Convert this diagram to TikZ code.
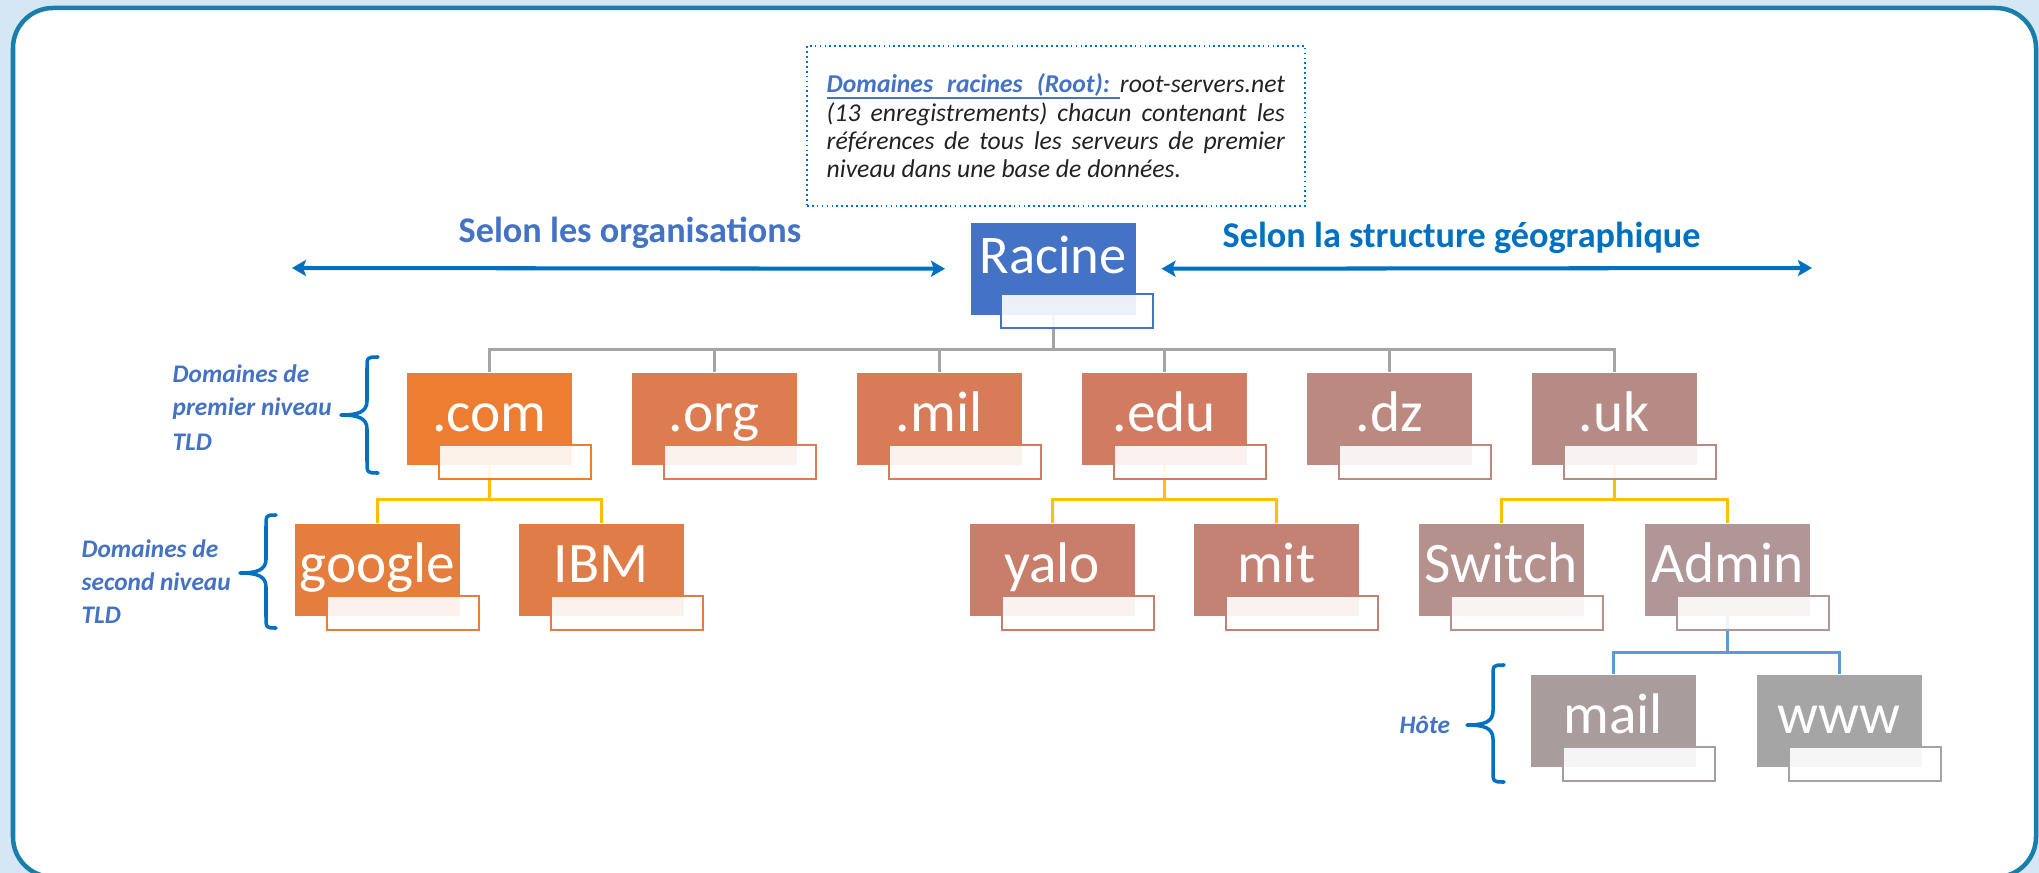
\documentclass[tikz,border=0pt]{standalone}
\usepackage{fontspec}
\setmainfont{Carlito}
\usetikzlibrary{arrows.meta,calc}

\definecolor{pagebg}{HTML}{D5E7F4}
\definecolor{framecol}{HTML}{1A7EAA}
\definecolor{accentblue}{HTML}{4472C4}
\definecolor{arrowblue}{HTML}{0070C0}
\definecolor{linkgray}{HTML}{A5A5A5}
\definecolor{linkyellow}{HTML}{FFC000}
\definecolor{linkblue}{HTML}{5B9BD5}
\definecolor{notetext}{HTML}{222222}
% box colours, from orange to grey
\definecolor{cCom}{HTML}{ED7D31}
\definecolor{cOrg}{HTML}{DD7C50}
\definecolor{cMil}{HTML}{D77B59}
\definecolor{cEdu}{HTML}{D07B62}
\definecolor{cDz}{HTML}{BC8980}
\definecolor{cUk}{HTML}{B78B85}
\definecolor{cGoogle}{HTML}{E57D3C}
\definecolor{cIbm}{HTML}{DF7C47}
\definecolor{cYalo}{HTML}{C97E6B}
\definecolor{cMit}{HTML}{C48274}
\definecolor{cSwitch}{HTML}{B5918D}
\definecolor{cAdmin}{HTML}{B09696}
\definecolor{cMail}{HTML}{A89C9C}
\definecolor{cWww}{HTML}{A5A5A5}

\pgfdeclarelayer{frame}
\pgfdeclarelayer{links}
\pgfsetlayers{frame,links,main}

\newlength\rootw

% name, x, y (top left), colour, label
\newcommand\dnsbox[5]{%
  \node[mainbox, fill=#4] (#1) at (#2,#3) {};
  \node[boxlabel] (#1-t) at ([yshift=-0.59cm]#1.north) {#5};
  \node[subbox, draw=#4] (#1-s) at ([xshift=0.32cm,yshift=-0.72cm]#1.north west) {};
}

\begin{document}
\begin{tikzpicture}[x=0.01cm,y=-0.01cm,
  mainbox/.style={rectangle, minimum width=1.65cm, minimum height=0.92cm, inner sep=0pt, anchor=north west},
  subbox/.style={rectangle, minimum width=1.52cm, minimum height=0.34cm, inner sep=0pt, anchor=north west, fill=white, fill opacity=0.9, line width=0.6pt},
  boxlabel/.style={anchor=base, text=white, inner sep=0pt, font=\fontsize{16.3}{19}\selectfont},
  graylink/.style={draw=linkgray, line width=0.85pt},
  yellowlink/.style={draw=linkyellow, line width=0.75pt},
  bluelink/.style={draw=linkblue, line width=0.7pt},
  arrowline/.style={draw=arrowblue, line width=1.15pt, {Stealth[length=0.14cm,width=0.16cm,inset=0.03cm]}-{Stealth[length=0.14cm,width=0.16cm,inset=0.03cm]}},
  bracestyle/.style={draw=arrowblue, line width=1pt, line cap=round, line join=round},
  sidelabel/.style={anchor=base west, inner sep=0pt, text=accentblue, font=\fontsize{7.2}{9}\selectfont\bfseries\itshape},
  noteline/.style={anchor=base west, inner sep=0pt, text=notetext, font=\fontsize{7.3}{8.1}\selectfont\itshape},
  headline/.style={anchor=base west, inner sep=0pt, font=\fontsize{10.3}{12}\selectfont\bfseries}
]
\useasboundingbox (0,0) rectangle (2039,873);

% page background and rounded frame
\begin{pgfonlayer}{frame}
  \fill[pagebg] (0,0) rectangle (2039,873);
  \draw[framecol, line width=0.045cm, fill=white, rounded corners=0.4cm] (13,8) rectangle (2036,877);
\end{pgfonlayer}

% note about the root servers
\node[draw=arrowblue, line width=0.5pt, dash pattern=on 0.5pt off 0.9pt, rectangle, minimum width=4.98cm, minimum height=1.60cm, inner sep=0pt, anchor=north west] (note) at (806,45) {};
\node[noteline] (note-a) at (826,93) {\settowidth{\rootw}{root-servers.net}{\color{accentblue}\underline{\smash{\makebox[\dimexpr4.58cm-\rootw\relax][l]{\makebox[2.83cm][s]{\bfseries Domaines racines (Root):}}}}}root-servers.net};
\node[noteline] (note-b) at (826,122) {\makebox[4.58cm][s]{(13 enregistrements) chacun contenant les}};
\node[noteline] (note-c) at (826,150) {\makebox[4.58cm][s]{références de tous les serveurs de premier}};
\node[noteline] (note-d) at (826,178) {niveau dans une base de données.};

% root
\node[mainbox, fill=accentblue] (racine) at (970,222) {};
\node[boxlabel, font=\fontsize{15.5}{18}\selectfont] (racine-t) at ([yshift=-0.51cm]racine.north) {Racine};
\node[subbox, draw=accentblue] (racine-s) at ([xshift=0.30cm,yshift=-0.71cm]racine.north west) {};

% direction headings and arrows
\node[headline, text=accentblue] (org-head) at (458,243) {Selon les organisations};
\node[headline, text=arrowblue] (geo-head) at (1222,248) {Selon la structure géographique};
\coordinate (west-end) at (292,268);
\coordinate (east-end) at (1812,268);
\draw[arrowline] (west-end) -- ([xshift=-0.25cm]racine.west);
\draw[arrowline] ([xshift=0.25cm]racine.east) -- (east-end);

% top level domains
\dnsbox{com}{406}{372}{cCom}{.com}
\dnsbox{org}{631}{372}{cOrg}{.org}
\dnsbox{mil}{856}{372}{cMil}{.mil}
\dnsbox{edu}{1081}{372}{cEdu}{.edu}
\dnsbox{dz}{1306}{372}{cDz}{.dz}
\dnsbox{uk}{1531}{372}{cUk}{.uk}

% second level domains
\dnsbox{google}{294}{523}{cGoogle}{google}
\dnsbox{ibm}{518}{523}{cIbm}{IBM}
\dnsbox{yalo}{969}{523}{cYalo}{yalo}
\dnsbox{mit}{1193}{523}{cMit}{mit}
\dnsbox{switch}{1418}{523}{cSwitch}{Switch}
\dnsbox{admin}{1644}{523}{cAdmin}{Admin}

% hosts
\dnsbox{mail}{1530}{674}{cMail}{mail}
\dnsbox{www}{1756}{674}{cWww}{www}

% tree connectors
\begin{pgfonlayer}{links}
  \foreach \c in {com,org,mil,edu,dz,uk}
    \draw[graylink] (racine.south) -- ++(0,34) -| (\c.north);
  \foreach \c in {google,ibm}
    \draw[yellowlink] (com.south) -- ++(0,34) -| (\c.north);
  \foreach \c in {yalo,mit}
    \draw[yellowlink] (edu.south) -- ++(0,34) -| (\c.north);
  \foreach \c in {switch,admin}
    \draw[yellowlink] (uk.south) -- ++(0,34) -| (\c.north);
  \foreach \c in {mail,www}
    \draw[bluelink] (admin.south) -- ++(0,36) -| (\c.north);
\end{pgfonlayer}

% level labels
\node[sidelabel] (tld-a) at (172,382) {Domaines de};
\node[sidelabel] (tld-b) at (172,416) {premier niveau};
\node[sidelabel] (tld-c) at (172,450) {TLD};
\node[sidelabel] (sld-a) at (81,557) {Domaines de};
\node[sidelabel] (sld-b) at (81,590) {second niveau};
\node[sidelabel] (sld-c) at (81,623) {TLD};
\node[sidelabel] (host) at (1399,733) {Hôte};

% curly braces
\draw[bracestyle] (378,357) .. controls (367,357) .. (367,369) -- (367,401)
  .. controls (367,412) and (358,415) .. (341,415)
  .. controls (358,415) and (367,418) .. (367,429) -- (367,461)
  .. controls (367,473) .. (378,473);
\draw[bracestyle] (276,515) .. controls (266,515) .. (266,527) -- (266,559)
  .. controls (266,570) and (257,573) .. (240,573)
  .. controls (257,573) and (266,576) .. (266,587) -- (266,616)
  .. controls (266,628) .. (276,628);
\draw[bracestyle] (1504,665) .. controls (1493,665) .. (1493,677) -- (1493,711)
  .. controls (1493,722) and (1484,725) .. (1467,725)
  .. controls (1484,725) and (1493,728) .. (1493,739) -- (1493,770)
  .. controls (1493,782) .. (1504,782);
\end{tikzpicture}
\end{document}
